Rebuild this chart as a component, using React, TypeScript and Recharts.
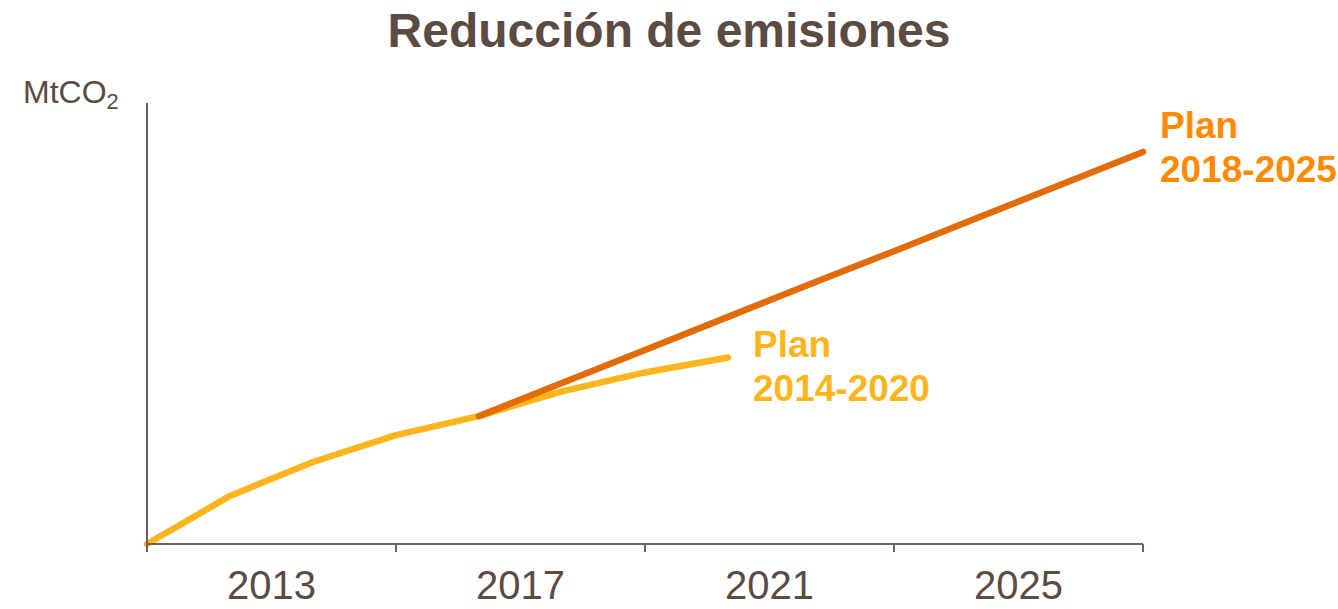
import React from "react"
import { LineChart, Line, XAxis, YAxis } from "recharts"

// positions along the x axis (one step per point)
const steps = [0, 1, 2, 3, 4, 5, 6, 7, 8, 9, 10, 11, 12]
// Plan 2014-2020 (MtCO2, relative)
const plan2014 = [0, 10.9, 18.6, 24.7, 29.0, 34.6, 38.9, 42.3, null, null, null, null, null]
// Plan 2018-2025
const plan2018 = [null, null, null, null, 29.0, 36.5, 44.0, 51.5, 59.0, 66.4, 73.9, 81.4, 88.9]
const tickLabels = ["2013", "2017", "2021", "2025"]
const tickMarks = [0, 3, 6, 9, 12]
const labelTicks = [1.5, 4.5, 7.5, 10.5]

const data = steps.map((s, i) => ({ step: s, plan2014: plan2014[i], plan2018: plan2018[i] }))

const FONT = "'Liberation Sans', Arial, sans-serif"
const BROWN = "#5b4b43"
const AXIS = "#6e625a"
const YELLOW = "#fdb51e"
const ORANGE_LINE = "#e36c0a"
const ORANGE_TEXT = "#ff8a00"

const XTick = (props: any) => {
  const { x, y, payload } = props
  const v = payload.value
  if (tickMarks.includes(v)) {
    return <line x1={x} x2={x} y1={y} y2={y + 8} stroke={AXIS} strokeWidth={2} />
  }
  const idx = labelTicks.indexOf(v)
  return (
    <text x={x} y={y + 55} textAnchor="middle" fill={BROWN} fontSize={40} fontFamily={FONT}>
      {tickLabels[idx]}
    </text>
  )
}

const endLabel = (lines: string[], color: string, dx: number, dy: number, lastIndex: number) =>
  (props: any) => {
    const { x, y, index } = props
    if (index !== lastIndex) return null
    return (
      <text x={x + dx} y={y + dy} fill={color} fontSize={37} fontWeight="bold" fontFamily={FONT}>
        {lines.map((l, i) => (
          <tspan key={i} x={x + dx} dy={i === 0 ? 0 : 44}>
            {l}
          </tspan>
        ))}
      </text>
    )
  }

const App = () => {
  return (
    <div style={{ position: "absolute", left: 0, top: 0, width: 1338, height: 609, background: "#fff", fontFamily: FONT }}>
      <div
        style={{
          position: "absolute",
          top: 7,
          left: 0,
          width: 1338,
          textAlign: "center",
          fontSize: 48,
          lineHeight: "48px",
          fontWeight: "bold",
          color: BROWN,
        }}
      >
        Reducción de emisiones
      </div>
      <div style={{ position: "absolute", left: 23, top: 76, fontSize: 32, lineHeight: "32px", color: BROWN }}>
        MtCO<span style={{ fontSize: 22, position: "relative", top: 6 }}>2</span>
      </div>
      <LineChart width={1338} height={609} data={data} margin={{ top: 103, right: 195, bottom: 0, left: 0 }}>
        <XAxis
          dataKey="step"
          type="number"
          domain={[0, 12]}
          ticks={[0, 1.5, 3, 4.5, 6, 7.5, 9, 10.5, 12]}
          interval={0}
          height={65}
          tickSize={0}
          tickMargin={0}
          tickLine={false}
          axisLine={{ stroke: AXIS, strokeWidth: 2 }}
          tick={(p: any) => <XTick {...p} />}
        />
        <YAxis
          type="number"
          domain={[0, 100]}
          width={147}
          tick={false}
          tickLine={false}
          axisLine={{ stroke: AXIS, strokeWidth: 2 }}
        />
        <Line
          dataKey="plan2014"
          stroke={YELLOW}
          strokeWidth={6.5}
          strokeLinecap="round"
          strokeLinejoin="round"
          dot={false}
          activeDot={false}
          isAnimationActive={false}
          label={endLabel(["Plan", "2014-2020"], YELLOW, 25, 0, 7)}
        />
        <Line
          dataKey="plan2018"
          stroke={ORANGE_LINE}
          strokeWidth={6.5}
          strokeLinecap="round"
          dot={false}
          activeDot={false}
          isAnimationActive={false}
          label={endLabel(["Plan", "2018-2025"], ORANGE_TEXT, 17, -14, 12)}
        />
      </LineChart>
    </div>
  )
}

export default App
